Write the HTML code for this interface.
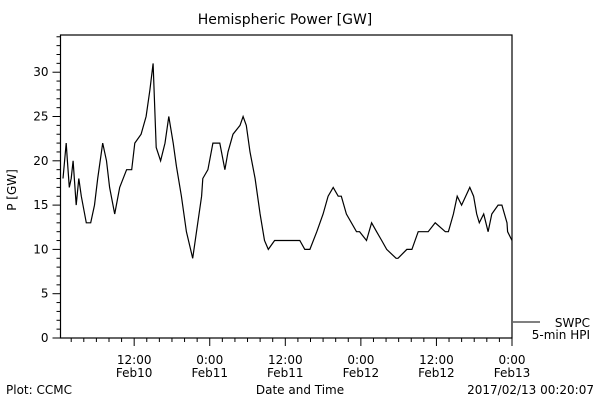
<!DOCTYPE html>
<html><head><meta charset="utf-8"><style>
body{margin:0;background:#fff}
svg{display:block;font-family:"DejaVu Sans","Liberation Sans",sans-serif}
</style></head><body>
<svg width="600" height="400" viewBox="0 0 600 400">
<text x="285" y="24" font-size="14" text-anchor="middle">Hemispheric Power [GW]</text>
<g id="axes"></g>
<path id="series" fill="none" stroke="#000" stroke-width="1.2"/>
<text x="16" y="190" font-size="12" text-anchor="middle" transform="rotate(-90 16 190)">P [GW]</text>
<text x="300" y="394" font-size="12" text-anchor="middle">Date and Time</text>
<text x="6" y="394" font-size="12">Plot: CCMC</text>
<text x="594" y="394" font-size="12" text-anchor="end">2017/02/13 00:20:07</text>
<g>
<line x1="513" y1="322" x2="540" y2="322" stroke="#000"/>
<text x="590" y="327" font-size="12" text-anchor="end">SWPC</text>
<text x="590" y="339" font-size="12" text-anchor="end">5-min HPI</text>
</g>
</svg>
<script>
const hours=[0.7,1.2,1.4,1.7,2.0,2.3,2.8,3.2,3.6,4.4,5.1,5.7,6.2,7.0,7.6,8.1,8.9,9.7,10.8,11.6,12.1,13.1,13.9,14.5,15.0,15.5,16.2,16.9,17.5,18.2,18.7,19.5,20.3,21.3,21.9,22.7,22.9,23.7,24.5,25.6,26.4,26.9,27.7,28.8,29.3,29.8,30.4,31.2,32.0,32.7,33.3,34.3,35.9,37.2,38.3,39.1,39.9,41.0,42.0,42.8,43.6,44.4,44.9,45.7,47.3,47.8,48.9,49.7,50.5,51.3,52.1,53.6,53.9,55.3,56.1,57.1,58.7,59.8,61.4,61.9,62.7,63.3,64.0,65.3,65.9,66.4,66.8,67.5,68.2,68.8,69.8,70.4,71.2,71.3,72.0];
const power=[18,22,20,17,18,20,15,18,16,13,13,15,18,22,20,17,14,17,19,19,22,23,25,28,31,21.5,20,22,25,22,19.4,16,12,9,12,16,18,19,22,22,19,21,23,24,25,24,21,18,14,11,10,11,11,11,11,10,10,12,14,16,17,16,16,14,12,12,11,13,12,11,10,9,9,10,10,12,12,13,12,12,14,16,15,17,16,14,13,14,12,14,15,15,13,12,11,12.3];
const yTicks=[0,5,10,15,20,25,30];
const xTicks=[{h:12,a:"12:00",b:"Feb10"},{h:24,a:"0:00",b:"Feb11"},{h:36,a:"12:00",b:"Feb11"},{h:48,a:"0:00",b:"Feb12"},{h:60,a:"12:00",b:"Feb12"},{h:72,a:"0:00",b:"Feb13"}];
const L=60.5,R=512,T=35,B=338;
const X0=0.3,X1=72,Y0=0,Y1=34.2;
const sx=h=>L+(h-X0)/(X1-X0)*(R-L);
const sy=v=>B-(v-Y0)/(Y1-Y0)*(B-T);
const NS="http://www.w3.org/2000/svg";
const g=document.getElementById('axes');
function mk(t,at){const e=document.createElementNS(NS,t);for(const k in at)e.setAttribute(k,at[k]);g.appendChild(e);return e;}
const frame=mk('rect',{x:L,y:T,width:R-L,height:B-T,fill:'none',stroke:'#000','stroke-width':1.2});


for(let v=0;v<=34;v++){const y=sy(v);const major=v%5===0;
 const t=mk('line',{x1:L-(major?8:4),x2:L,y1:y,y2:y,stroke:'#000'});
 
 }
yTicks.forEach(v=>{const t=mk('text',{x:L-12,y:sy(v)+4,'font-size':12,'text-anchor':'end'});t.textContent=v;
 
 });
for(let h=2;h<=72;h+=2){const x=sx(h);const major=h%12===0;
 const t=mk('line',{x1:x,x2:x,y1:B,y2:B+(major?8:4),stroke:'#000'});
 
 }
xTicks.forEach(d=>{const x=sx(d.h);
 const a=mk('text',{x:x,y:B+26,'font-size':12,'text-anchor':'middle'});a.textContent=d.a;
 
 
 const b=mk('text',{x:x,y:B+39,'font-size':12,'text-anchor':'middle'});b.textContent=d.b;
 
 });
let d='';hours.forEach((h,i)=>{d+=(i?'L':'M')+sx(h).toFixed(1)+' '+sy(power[i]).toFixed(1);});
document.getElementById('series').setAttribute('d',d);
</script>
</body></html>
